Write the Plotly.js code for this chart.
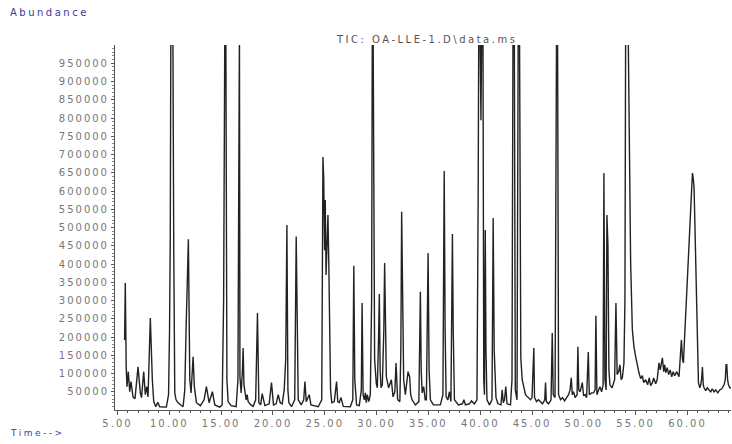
<!DOCTYPE html>
<html>
<head>
<meta charset="utf-8">
<script src="https://cdn.plot.ly/plotly-3.0.1.min.js"></script>
<style>
  html, body { margin: 0; padding: 0; background: #fff; }
  #chart { width: 732px; height: 444px; }
  .xtick text, .ytick text { letter-spacing: 2px; }
  .annotation-text { letter-spacing: 2.5px; }
</style>
</head>
<body>
<div id="chart"></div>
<script>
// Retention time (minutes) of each sampled point of the TIC trace
const timeMin = [
  5.686,5.754,5.841,5.918,6.043,6.179,6.304,6.498,6.691,6.981,7.203,7.319,7.531,7.686,7.821,7.947,
  8.169,8.266,8.362,8.498,8.691,8.884,9.077,9.715,9.928,10.024,10.092,10.150,10.343,10.430,10.527,10.652,
  10.845,11.329,11.493,11.618,11.841,11.976,12.101,12.295,12.420,12.614,13.000,13.357,13.580,13.841,14.159,14.391,
  14.874,15.097,15.242,15.358,15.454,15.560,15.676,15.966,16.449,16.623,16.700,16.768,16.816,16.932,17.058,17.126,
  17.203,17.319,17.415,17.512,17.609,17.870,18.092,18.333,18.507,18.643,18.816,18.961,19.222,19.638,19.860,20.053,
  20.314,20.507,20.700,20.894,21.087,21.232,21.348,21.444,21.541,21.792,22.101,22.246,22.362,22.440,22.729,22.971,
  23.087,23.213,23.502,23.667,24.372,24.710,24.826,24.903,24.981,25.048,25.126,25.193,25.309,25.386,25.464,25.560,
  25.676,25.918,26.140,26.256,26.401,26.565,26.787,27.464,27.705,27.802,27.899,28.072,28.333,28.527,28.604,28.700,
  28.816,28.913,29.010,29.106,29.251,29.396,29.522,29.589,29.667,29.754,29.812,29.976,30.072,30.188,30.266,30.343,
  30.430,30.556,30.700,30.778,30.865,30.942,31.164,31.425,31.589,31.763,31.879,32.034,32.246,32.343,32.420,32.507,
  32.614,32.778,32.942,33.039,33.193,33.290,33.425,33.744,34.082,34.179,34.227,34.304,34.401,34.546,34.691,34.807,
  34.903,34.971,35.068,35.193,35.483,35.870,36.159,36.401,36.478,36.527,36.614,36.710,36.884,37.029,37.174,37.251,
  37.319,37.396,37.512,37.899,38.285,38.430,38.575,38.961,39.155,39.444,39.686,39.802,39.860,39.976,40.073,40.150,
  40.266,40.343,40.411,40.440,40.488,40.556,40.652,40.894,41.135,41.203,41.251,41.348,41.444,41.522,41.715,42.005,
  42.121,42.227,42.343,42.469,42.585,42.923,43.068,43.164,43.290,43.386,43.551,43.667,43.792,43.870,43.918,44.053,
  44.208,44.372,44.565,44.855,45.000,45.116,45.174,45.242,45.435,45.628,45.821,46.014,46.227,46.304,46.382,46.594,
  46.836,46.952,47.048,47.222,47.367,47.464,47.560,47.754,47.947,48.140,48.333,48.527,48.671,48.787,48.884,49.010,
  49.155,49.348,49.425,49.512,49.638,49.851,49.976,50.121,50.266,50.430,50.527,50.749,50.942,51.087,51.164,51.261,
  51.425,51.551,51.715,51.860,51.937,52.034,52.150,52.227,52.324,52.420,52.517,52.729,52.971,53.097,53.213,53.357,
  53.483,53.599,53.715,53.870,53.966,54.034,54.275,54.324,54.391,54.449,54.517,54.681,54.836,55.000,55.164,55.319,
  55.483,55.647,55.773,55.966,56.159,56.304,56.449,56.614,56.739,56.932,57.077,57.251,57.367,57.464,57.580,57.705,
  57.802,57.899,58.043,58.188,58.333,58.478,58.623,58.768,58.961,59.184,59.348,59.415,59.522,59.609,59.734,59.831,
  59.947,60.053,60.169,60.246,60.362,60.478,60.556,60.633,60.729,60.797,60.865,60.961,61.058,61.184,61.280,61.358,
  61.444,61.522,61.599,61.763,61.908,62.082,62.246,62.391,62.565,62.729,62.923,63.116,63.309,63.531,63.647,63.725,
  63.792,63.870,63.957,64.082,64.246
];

// Abundance read at each of those times (off-scale peaks are above 1,000,000)
const abundance = [
  192000,348000,118000,64000,105000,50000,78000,36000,31000,118000,47000,34000,105000,42000,64000,36000,
  252000,165000,83000,23000,9000,21000,9000,8000,42000,220000,466000,1050000,1050000,438000,47000,28000,
  20000,9000,55000,220000,468000,83000,47000,146000,64000,20000,12000,28000,64000,20000,50000,14000,
  8000,14000,302000,1050000,1050000,83000,23000,12000,9000,83000,1050000,1050000,91000,47000,110000,170000,
  69000,39000,28000,42000,23000,14000,10000,28000,266000,20000,14000,45000,12000,17000,75000,14000,
  17000,42000,20000,17000,55000,138000,507000,55000,20000,9000,28000,475000,55000,28000,14000,28000,
  78000,23000,42000,14000,9000,28000,693000,630000,438000,575000,370000,466000,534000,411000,220000,55000,
  20000,23000,78000,23000,20000,34000,10000,9000,28000,395000,83000,14000,12000,55000,293000,42000,
  28000,47000,20000,42000,23000,42000,302000,1050000,1050000,302000,138000,72000,61000,192000,318000,110000,
  61000,69000,220000,403000,138000,91000,61000,83000,36000,50000,129000,28000,23000,165000,543000,220000,
  83000,42000,83000,105000,91000,42000,28000,14000,23000,165000,324000,110000,47000,64000,28000,28000,
  247000,430000,110000,28000,14000,14000,14000,42000,438000,655000,220000,36000,28000,50000,23000,302000,
  482000,220000,28000,14000,17000,28000,14000,17000,25000,17000,28000,575000,1050000,1050000,794000,1050000,
  1050000,83000,42000,302000,493000,165000,28000,14000,28000,302000,526000,165000,110000,34000,17000,14000,
  55000,20000,28000,64000,17000,14000,83000,1050000,1050000,55000,28000,1050000,1050000,302000,143000,83000,
  61000,42000,36000,28000,34000,138000,170000,34000,23000,28000,23000,17000,28000,75000,23000,17000,
  28000,211000,42000,34000,1050000,1050000,42000,28000,34000,25000,34000,42000,55000,88000,42000,50000,
  34000,42000,173000,55000,50000,75000,39000,42000,34000,159000,42000,47000,47000,55000,258000,42000,
  55000,64000,50000,69000,649000,83000,55000,534000,452000,110000,69000,61000,83000,293000,97000,105000,
  124000,83000,88000,129000,302000,1050000,1050000,912000,712000,493000,403000,220000,173000,146000,118000,102000,
  86000,94000,75000,83000,69000,88000,67000,75000,88000,72000,83000,129000,110000,132000,143000,105000,
  124000,102000,116000,97000,110000,91000,105000,94000,105000,91000,151000,192000,138000,129000,206000,266000,
  343000,420000,466000,548000,616000,649000,635000,611000,493000,397000,310000,129000,75000,61000,69000,83000,
  118000,69000,61000,53000,61000,55000,50000,58000,50000,55000,47000,55000,58000,69000,83000,124000,
  124000,83000,69000,61000,61000
];

const xTickVals = [5,10,15,20,25,30,35,40,45,50,55,60];
const xTickText = ["5.00","10.00","15.00","20.00","25.00","30.00","35.00","40.00","45.00","50.00","55.00","60.00"];
const xMinorVals = [5,6,7,8,9,10,11,12,13,14,15,16,17,18,19,20,21,22,23,24,25,26,27,28,29,30,31,32,33,34,35,36,37,38,39,40,41,42,43,44,45,46,47,48,49,50,51,52,53,54,55,56,57,58,59,60,61,62,63,64];
const yTickVals = [50000,100000,150000,200000,250000,300000,350000,400000,450000,500000,550000,600000,650000,700000,750000,800000,850000,900000,950000];
const yTickText = ["50000","100000","150000","200000","250000","300000","350000","400000","450000","500000","550000","600000","650000","700000","750000","800000","850000","900000","950000"];
const yMinorVals = [10000,20000,30000,40000,60000,70000,80000,90000,110000,120000,130000,140000,160000,170000,180000,190000,
  210000,220000,230000,240000,260000,270000,280000,290000,310000,320000,330000,340000,360000,370000,380000,390000,
  410000,420000,430000,440000,460000,470000,480000,490000,510000,520000,530000,540000,560000,570000,580000,590000,
  610000,620000,630000,640000,660000,670000,680000,690000,710000,720000,730000,740000,760000,770000,780000,790000,
  810000,820000,830000,840000,860000,870000,880000,890000,910000,920000,930000,940000,960000,970000,980000,990000];

const titleText = "TIC: OA-LLE-1.D\\data.ms";
const yLabel = "Abundance";
const xLabel = "Time-->";

const trace = {
  x: timeMin,
  y: abundance,
  type: "scatter",
  mode: "lines",
  line: { color: "#222222", width: 1.4 },
  hoverinfo: "skip",
  showlegend: false
};

const tickFont = { family: "DejaVu Sans", size: 10, color: "#777777" };

const layout = {
  width: 732,
  height: 444,
  margin: { l: 115, r: 1, t: 45, b: 34, pad: 0 },
  paper_bgcolor: "#ffffff",
  plot_bgcolor: "#ffffff",
  showlegend: false,
  xaxis: {
    range: [4.76, 64.2],
    showgrid: false,
    zeroline: false,
    showline: true,
    linecolor: "#555555",
    linewidth: 1,
    ticks: "outside",
    ticklen: 4,
    tickwidth: 1,
    tickcolor: "#555555",
    tickmode: "array",
    tickvals: xTickVals,
    ticktext: xTickText,
    tickfont: tickFont,
    minor: { tickmode: "array", tickvals: xMinorVals, ticks: "outside", ticklen: 2, tickcolor: "#555555", showgrid: false }
  },
  yaxis: {
    range: [0, 1000000],
    showgrid: false,
    zeroline: false,
    showline: true,
    linecolor: "#555555",
    linewidth: 1,
    ticks: "outside",
    ticklen: 3,
    tickwidth: 1,
    tickcolor: "#555555",
    tickmode: "array",
    tickvals: yTickVals,
    ticktext: yTickText,
    tickfont: tickFont,
    minor: { tickmode: "array", tickvals: yMinorVals, ticks: "outside", ticklen: 2, tickcolor: "#888888", showgrid: false }
  },
  annotations: [
    { text: yLabel, xref: "paper", yref: "paper", x: -0.174, y: 1.088, xanchor: "left", yanchor: "middle",
      showarrow: false, font: { family: "DejaVu Sans", size: 10, color: "#3c3ca0" } },
    { text: xLabel, xref: "paper", yref: "paper", x: -0.174, y: -0.063, xanchor: "left", yanchor: "middle",
      showarrow: false, font: { family: "DejaVu Sans", size: 9, color: "#3c3ca0" } },
    { text: titleText, xref: "paper", yref: "paper", x: 0.505, y: 1.016, xanchor: "center", yanchor: "middle",
      showarrow: false, font: { family: "DejaVu Sans", size: 10, color: "#555555" } }
  ]
};

Plotly.newPlot("chart", [trace], layout, { staticPlot: true, displayModeBar: false });
</script>
</body>
</html>
